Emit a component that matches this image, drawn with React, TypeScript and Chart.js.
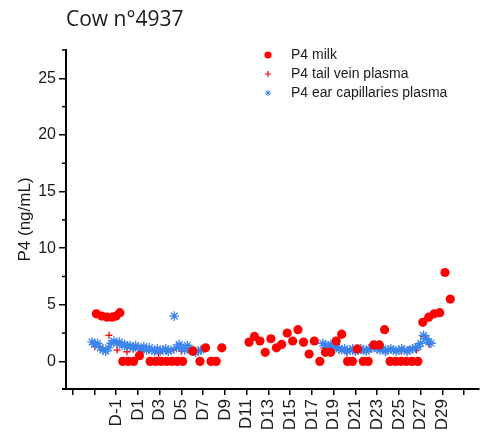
import React, { useEffect, useRef } from 'react';
import { Chart, registerables } from 'chart.js';
import { drawPoint } from 'chart.js/helpers';

Chart.register(...registerables);

const chartTitle = 'Cow n°4937';
const yAxisTitle = 'P4 (ng/mL)';
const seriesNames = ['P4 milk', 'P4 tail vein plasma', 'P4 ear capillaries plasma'];

// P4 milk (twice daily)
const milkDays = [
  -2.81, -2.32, -1.82, -1.37, -1.01, -0.65, -0.38, 0.12, 0.61, 1.15,
  2.14, 2.64, 3.14, 3.63, 4.13, 4.62, 5.12, 6.05, 6.71, 7.23, 7.73, 8.21, 8.72,
  11.22, 11.72, 12.23, 12.71, 13.23, 13.74, 14.22, 14.73, 15.23, 15.72, 16.23, 16.74,
  17.22, 17.73, 18.24, 18.72, 19.23, 19.74, 20.28, 20.73, 21.18, 21.72, 22.17, 22.68,
  23.2, 23.68, 24.19, 24.69, 25.18, 25.68, 26.2, 26.74, 27.19, 27.73, 28.24, 28.75,
  29.23, 29.72,
];
const milkValues = [
  4.2, 4.0, 3.9, 3.9, 4.0, 4.3, 0, 0, 0, 0.5,
  0, 0, 0, 0, 0, 0, 0, 0.9, 0, 1.2, 0, 0, 1.2,
  1.7, 2.2, 1.8, 0.8, 2.0, 1.2, 1.5, 2.5, 1.8, 2.8, 1.7, 0.65,
  1.8, 0, 0.8, 0.8, 1.8, 2.4, 0, 0, 1.1, 0, 0, 1.45,
  1.45, 2.8, 0, 0, 0, 0, 0, 0, 3.45, 3.9, 4.2, 4.3,
  7.85, 5.5,
];

// P4 tail vein plasma
const tailDays = [
  -2.95, -2.25, -1.65, -0.9, 0.0, 0.6, 1.4, 2.0, 2.9, 3.6, 4.3, 5.0, 5.7, 6.3, 6.8,
  18.1, 18.8, 19.5, 20.2, 21.0, 21.7, 22.4, 23.1, 23.8, 24.5, 25.2, 25.9, 26.6, 27.25, 27.8,
];
const tailValues = [
  1.3, 1.15, 2.3, 1.0, 0.85, 1.1, 0.9, 1.0, 0.7, 0.9, 1.0, 0.9, 1.0, 1.0, 1.0,
  1.2, 1.0, 1.3, 0.8, 0.9, 1.0, 1.1, 1.2, 0.9, 1.0, 0.9, 1.0, 1.0, 2.2, 1.5,
];

// P4 ear capillaries plasma
const earDays = [
  -3.2, -2.95, -2.7, -2.45, -2.2, -1.95, -1.7, -1.45, -1.2, -0.95, -0.7, -0.45, -0.2,
  0.05, 0.3, 0.55, 0.8, 1.05, 1.3, 1.55, 1.8, 2.05, 2.3, 2.55, 2.8, 3.05, 3.3, 3.55,
  3.8, 4.05, 4.35, 4.55, 4.8, 5.05, 5.3, 5.55, 5.8, 6.05, 6.3, 6.55, 6.8,
  18.0, 18.25, 18.5, 18.75, 19.0, 19.25, 19.5, 19.75, 20.0, 20.25, 20.5, 20.75, 21.0,
  21.25, 21.5, 21.75, 22.0, 22.25, 22.5, 22.75, 23.0, 23.25, 23.5, 23.75, 24.0, 24.25,
  24.5, 24.75, 25.0, 25.25, 25.5, 25.75, 26.0, 26.25, 26.5, 26.75, 27.0, 27.25, 27.5,
  27.75, 27.95,
];
const earValues = [
  1.7, 1.5, 1.6, 1.2, 1.0, 0.9, 1.2, 1.6, 1.8, 1.6, 1.7, 1.4, 1.5,
  1.3, 1.4, 1.2, 1.4, 1.2, 1.1, 1.3, 1.0, 1.2, 1.0, 0.9, 1.1, 0.9, 1.0, 1.1,
  0.9, 1.0, 4.0, 1.2, 1.5, 1.2, 1.0, 1.4, 1.1, 0.9, 0.8, 0.9, 1.0,
  1.6, 1.4, 1.3, 1.5, 1.2, 1.3, 1.1, 1.0, 1.1, 0.9, 1.0, 1.1, 0.9,
  1.0, 1.1, 1.0, 0.9, 1.1, 1.2, 1.3, 1.1, 1.0, 1.1, 0.9, 1.0, 1.1,
  1.0, 0.9, 1.0, 1.1, 1.0, 0.9, 1.0, 1.1, 1.2, 1.3, 1.6, 2.3, 2.0,
  1.7, 1.6,
];

const xTickValues = [-5, -3, -1, 1, 3, 5, 7, 9, 11, 13, 15, 17, 19, 21, 23, 25, 27, 29, 31];
const xTickLabels = ['', '', 'D-1', 'D1', 'D3', 'D5', 'D7', 'D9', 'D11', 'D13', 'D15', 'D17', 'D19', 'D21', 'D23', 'D25', 'D27', 'D29', ''];
const yTickValues = [0, 5, 10, 15, 20, 25];
const yMinorTicks = [2.5, 7.5, 12.5, 17.5, 22.5, 27.5];

const RED = '#ff0000';
const BLUE = '#3a84ec';
const FONT = '"Liberation Sans", Arial, sans-serif';

const zip = (xs: number[], ys: number[]) => xs.map((x, i) => ({ x, y: ys[i] }));

const minorTickPlugin = {
  id: 'minorTicks',
  afterDraw(chart: any) {
    const y = chart.scales.y;
    const x = chart.scales.x;
    const ctx = chart.ctx;
    ctx.save();
    ctx.strokeStyle = '#000';
    ctx.lineWidth = 1.5;
    yMinorTicks.forEach((v) => {
      const py = y.getPixelForValue(v);
      ctx.beginPath();
      ctx.moveTo(y.right - 4, py);
      ctx.lineTo(y.right, py);
      ctx.stroke();
    });
    // small extension of the x axis line to the left of the y axis
    ctx.lineWidth = 2;
    ctx.beginPath();
    ctx.moveTo(x.left - 4, x.top);
    ctx.lineTo(x.left, x.top);
    ctx.stroke();
    ctx.restore();
  },
};

const legendPlugin = {
  id: 'insideLegend',
  afterDraw(chart: any) {
    const ctx = chart.ctx;
    const area = chart.chartArea;
    const x0 = area.left + 202;
    const y0 = area.top + 5;
    const gap = 19;
    const markers = [
      { pointStyle: 'circle', radius: 3.6, color: RED, lw: 0 },
      { pointStyle: 'cross', radius: 3, color: RED, lw: 1.2 },
      { pointStyle: 'star', radius: 3, color: BLUE, lw: 1 },
    ];
    ctx.save();
    seriesNames.forEach((name, i) => {
      const m = markers[i];
      const cy = y0 + i * gap;
      ctx.fillStyle = m.color;
      ctx.strokeStyle = m.color;
      ctx.lineWidth = m.lw;
      drawPoint(ctx, { pointStyle: m.pointStyle, radius: m.radius, rotation: 0, borderWidth: m.lw } as any, x0, cy);
      ctx.fillStyle = '#1a1a1a';
      ctx.font = '14px ' + FONT;
      ctx.textBaseline = 'middle';
      ctx.textAlign = 'left';
      ctx.fillText(name, x0 + 23, cy);
    });
    ctx.restore();
  },
};

export default function App() {
  const ref = useRef<HTMLCanvasElement | null>(null);
  useEffect(() => {
    if (!ref.current) return;
    const chart = new Chart(ref.current, {
      type: 'scatter',
      data: {
        datasets: [
          {
            label: seriesNames[0],
            data: zip(milkDays, milkValues),
            pointStyle: 'circle',
            pointRadius: 4.6,
            borderWidth: 0,
            backgroundColor: RED,
            borderColor: RED,
            order: 0,
          },
          {
            label: seriesNames[1],
            data: zip(tailDays, tailValues),
            pointStyle: 'cross',
            pointRadius: 3.5,
            borderWidth: 1.3,
            backgroundColor: RED,
            borderColor: RED,
            order: 2,
          },
          {
            label: seriesNames[2],
            data: zip(earDays, earValues),
            pointStyle: 'star',
            pointRadius: 4.8,
            borderWidth: 1.3,
            backgroundColor: BLUE,
            borderColor: BLUE,
            order: 1,
          },
        ],
      },
      options: {
        animation: false,
        responsive: false,
        events: [],
        layout: { padding: { left: 0, top: 0, right: 2, bottom: 0 } },
        plugins: {
          legend: { display: false },
          tooltip: { enabled: false },
          title: {
            display: true,
            text: chartTitle,
            align: 'start',
            fullSize: false,
            color: '#1a1a1a',
            font: { family: '"Open Sans", sans-serif', size: 21, weight: 'normal', lineHeight: 1.2 },
            padding: { top: 7, bottom: 17.8 },
          },
        },
        scales: {
          x: {
            type: 'linear',
            min: -5.6,
            max: 32.32,
            afterBuildTicks: (scale: any) => {
              scale.ticks = xTickValues.map((v) => ({ value: v }));
            },
            afterFit: (scale: any) => {
              scale.height = 50;
            },
            border: { display: true, color: '#000', width: 2 },
            grid: { drawOnChartArea: false, drawTicks: true, tickLength: 6, color: '#000', lineWidth: 1.5 },
            ticks: {
              autoSkip: false,
              minRotation: 90,
              maxRotation: 90,
              padding: 4,
              color: '#1a1a1a',
              font: { family: FONT, size: 17 },
              callback: (_v: any, i: number) => xTickLabels[i],
            },
          },
          y: {
            type: 'linear',
            min: -2.44,
            max: 27.5,
            afterBuildTicks: (scale: any) => {
              scale.ticks = yTickValues.map((v) => ({ value: v }));
            },
            afterFit: (scale: any) => {
              scale.width = 66;
            },
            border: { display: true, color: '#000', width: 2 },
            grid: { drawOnChartArea: false, drawTicks: true, tickLength: 7, color: '#000', lineWidth: 1.5 },
            ticks: {
              padding: 3,
              color: '#1a1a1a',
              font: { family: FONT, size: 16 },
              callback: (v: any) => String(v),
            },
            title: {
              display: true,
              text: yAxisTitle,
              color: '#1a1a1a',
              font: { family: FONT, size: 17, lineHeight: 1.2 },
              padding: { top: 15, bottom: 0 },
            },
          },
        },
      } as any,
      plugins: [minorTickPlugin, legendPlugin],
    });
    return () => chart.destroy();
  }, []);
  return (
    <canvas
      ref={ref}
      width={489}
      height={439}
      style={{ position: 'fixed', left: 0, top: 0, display: 'block' }}
    />
  );
}
